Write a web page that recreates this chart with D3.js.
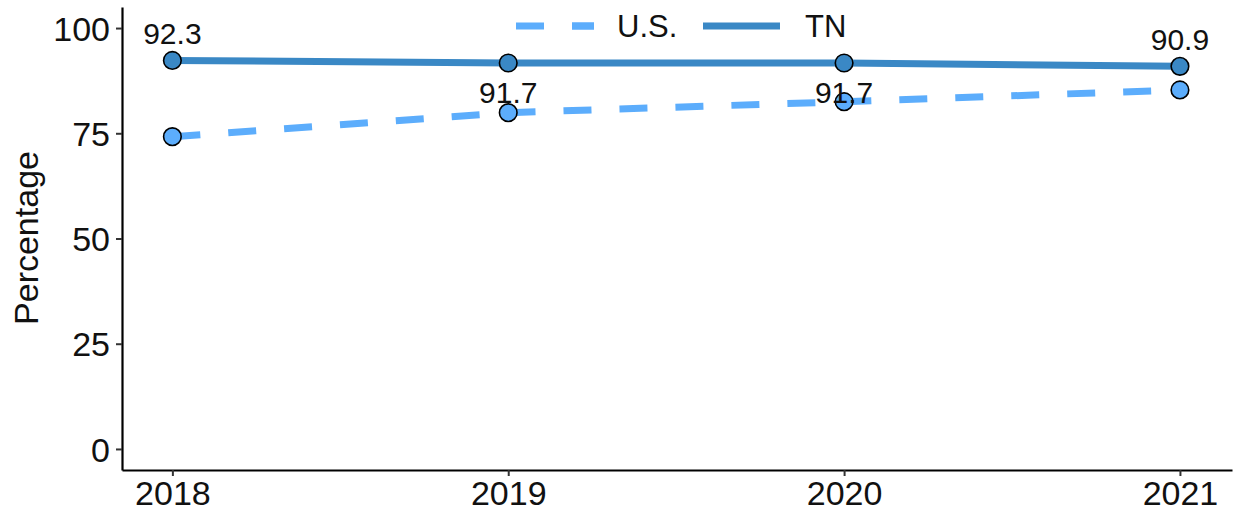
<!DOCTYPE html>
<html>
<head>
<meta charset="utf-8">
<script src="https://cdn.jsdelivr.net/npm/d3@7"></script>
<style>
  body { margin: 0; background: #fff; }
  text { font-family: "Liberation Sans", Arial, sans-serif; }
</style>
</head>
<body>
<svg id="chart" width="1235" height="514"></svg>
<script>
// data
var years = [2018, 2019, 2020, 2021];
var tnValues = [92.3, 91.7, 91.7, 90.9];
var usValues = [74.2, 79.9, 82.5, 85.3];
var yTicks = [0, 25, 50, 75, 100];
var seriesNames = ["U.S.", "TN"];

var tnColor = "#3a88c5", usColor = "#5cadfc";

var svg = d3.select("#chart");

// scales
var x = d3.scaleLinear().domain([2017.85, 2021.155]).range([122, 1232]);
var y = d3.scaleLinear().domain([-5, 105]).range([470, 7]);

// y axis
var yAxis = svg.append("g")
    .attr("transform", "translate(122,0)")
    .call(d3.axisLeft(y).tickValues(yTicks).tickSize(6).tickPadding(6).tickSizeOuter(0));
yAxis.select(".domain").attr("stroke", "#000").attr("stroke-width", 2.2);
yAxis.selectAll(".tick line").attr("stroke", "#333").attr("stroke-width", 2);
yAxis.selectAll(".tick text").attr("fill", "#111").style("font-size", "34px").attr("dy", "0.36em");

// x axis
var xAxis = svg.append("g")
    .attr("transform", "translate(0,470)")
    .call(d3.axisBottom(x).tickValues(years).tickFormat(d3.format("d")).tickSize(6).tickPadding(5).tickSizeOuter(0));
xAxis.select(".domain").attr("stroke", "#000").attr("stroke-width", 2.2);
xAxis.selectAll(".tick line").attr("stroke", "#333").attr("stroke-width", 2);
xAxis.selectAll(".tick text").attr("fill", "#111").style("font-size", "34px").attr("dy", "0.72em");

// axis title
svg.append("text")
    .attr("transform", "translate(38,238) rotate(-90)")
    .attr("text-anchor", "middle")
    .style("font-size", "34px")
    .attr("fill", "#111")
    .text("Percentage");

var line = d3.line()
    .x(function (d, i) { return x(years[i]); })
    .y(function (d) { return y(d); });

// US dashed line
svg.append("path")
    .attr("d", line(usValues))
    .attr("fill", "none")
    .attr("stroke", usColor)
    .attr("stroke-width", 7)
    .attr("stroke-dasharray", "28,28");

// TN solid line
svg.append("path")
    .attr("d", line(tnValues))
    .attr("fill", "none")
    .attr("stroke", tnColor)
    .attr("stroke-width", 7);

// points
function addPoints(values, fill) {
    svg.selectAll(null)
        .data(values)
        .enter()
        .append("circle")
        .attr("cx", function (d, i) { return x(years[i]); })
        .attr("cy", function (d) { return y(d); })
        .attr("r", 8.8)
        .attr("fill", fill)
        .attr("stroke", "#000")
        .attr("stroke-width", 1.6);
}
addPoints(usValues, usColor);
addPoints(tnValues, tnColor);

// TN value labels: first and last above, middle ones below
svg.selectAll(null)
    .data(tnValues)
    .enter()
    .append("text")
    .attr("x", function (d, i) { return x(years[i]); })
    .attr("y", function (d, i) {
        var above = (i === 0 || i === tnValues.length - 1);
        return y(d) + (above ? -16 : 40);
    })
    .attr("text-anchor", "middle")
    .style("font-size", "30px")
    .attr("fill", "#111")
    .text(function (d) { return d3.format(".1f")(d); });

// legend
var legend = svg.append("g");
legend.append("line")
    .attr("x1", 516).attr("x2", 594).attr("y1", 26).attr("y2", 26)
    .attr("stroke", usColor).attr("stroke-width", 7)
    .attr("stroke-dasharray", "28,28");
legend.append("line")
    .attr("x1", 516 + 56).attr("x2", 594).attr("y1", 26).attr("y2", 26)
    .attr("stroke", usColor).attr("stroke-width", 7);
legend.append("text")
    .attr("x", 617).attr("y", 37)
    .style("font-size", "31px").attr("fill", "#111")
    .text(seriesNames[0]);
legend.append("line")
    .attr("x1", 703).attr("x2", 780).attr("y1", 26).attr("y2", 26)
    .attr("stroke", tnColor).attr("stroke-width", 7);
legend.append("text")
    .attr("x", 805).attr("y", 37)
    .style("font-size", "31px").attr("fill", "#111")
    .text(seriesNames[1]);
</script>
</body>
</html>
